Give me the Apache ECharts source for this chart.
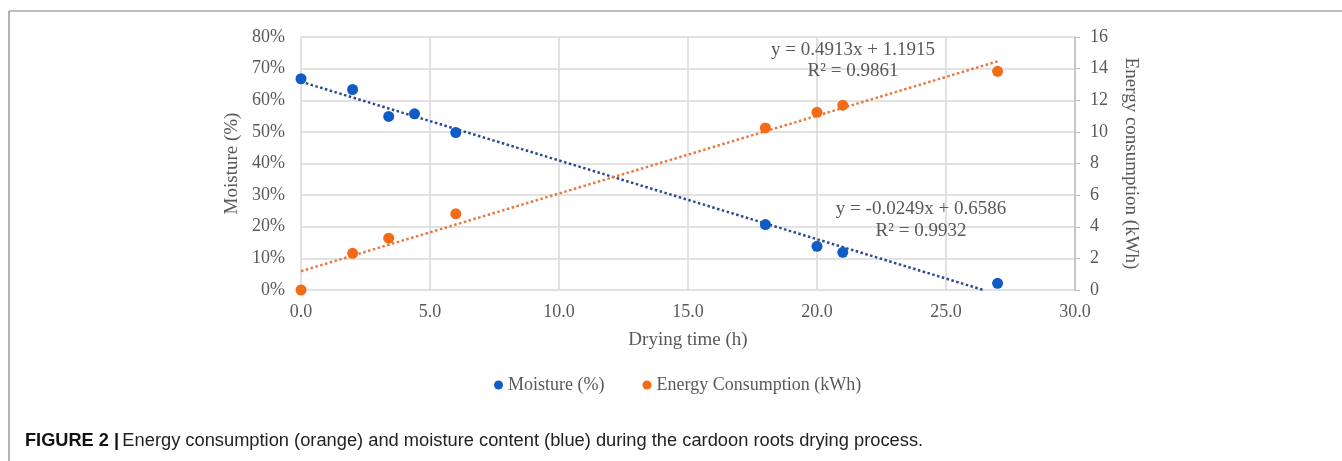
<!DOCTYPE html>
<html>
<head>
<meta charset="utf-8">
<script src="https://cdn.jsdelivr.net/npm/echarts@6/dist/echarts.min.js"></script>
<style>
  html, body { margin: 0; padding: 0; background: #fff; }
  #div-chart { width: 1342px; height: 461px; }
</style>
</head>
<body>
<div id="div-chart"></div>
<script>
"use strict";

//
// Data
//
const drying_time = [0, 2, 3.4, 4.4, 6, 18, 20, 21, 27];
const moisture_pct = [66.8, 63.4, 54.9, 55.7, 49.8, 20.7, 13.8, 11.9, 2.1];
// energy has no point at 4.4 h
const energy_time = [0, 2, 3.4, 6, 18, 20, 21, 27];
const energy_kwh = [0, 2.32, 3.28, 4.82, 10.25, 11.24, 11.69, 13.83];

// linear trendline end points
const trend_moisture = [[0, 65.86], [26.45, 0]];
const trend_energy = [[0, 1.19], [27, 14.46]];

const eq_energy = ["y = 0.4913x + 1.1915", "R² = 0.9861"];
const eq_moisture = ["y = -0.0249x + 0.6586", "R² = 0.9932"];

const caption_bold = "FIGURE 2 |";
const caption_text = "Energy consumption (orange) and moisture content (blue) during the cardoon roots drying process.";

//
// Styles
//
const col_blue = "#0f5cc4";
const col_orange = "#f56a14";
const col_text = "#595959";
const font_serif = "'Liberation Serif', 'Times New Roman', serif";
const font_caption = "'Liberation Sans', Arial, sans-serif";

const to_pairs = (xs, ys) => xs.map((x, i) => [x, ys[i]]);

const chart = echarts.init(document.getElementById("div-chart"));

chart.setOption({
  animation: false,
  textStyle: { fontFamily: font_serif },
  grid: {
    left: 301,
    right: 267,
    top: 37,
    bottom: 171,
  },
  legend: {
    show: true,
    top: 371,
    left: 489,
    itemWidth: 9,
    itemHeight: 9,
    itemGap: 38,
    icon: "circle",
    textStyle: { fontSize: 18, color: col_text, fontFamily: font_serif },
    data: ["Moisture (%)", "Energy Consumption (kWh)"],
  },
  xAxis: {
    type: "value",
    min: 0,
    max: 30,
    interval: 5,
    name: "Drying time (h)",
    nameLocation: "middle",
    nameGap: 41,
    nameTextStyle: { fontSize: 19, color: col_text },
    axisLine: { show: false },
    axisTick: { show: false },
    axisLabel: {
      fontSize: 18,
      color: col_text,
      margin: 13,
      formatter: (v) => v.toFixed(1),
    },
    splitLine: { show: true, lineStyle: { color: "#d9d9d9", width: 1.5 } },
  },
  yAxis: [
    {
      type: "value",
      min: 0,
      max: 80,
      interval: 10,
      name: "Moisture (%)",
      nameLocation: "middle",
      nameGap: 55,
      nameTextStyle: { fontSize: 19, color: col_text },
      axisLine: { show: false },
      axisTick: { show: false },
      axisLabel: {
        fontSize: 18,
        color: col_text,
        margin: 16,
        formatter: "{value}%",
      },
      splitLine: { show: true, lineStyle: { color: "#d9d9d9", width: 1.5 } },
    },
    {
      type: "value",
      min: 0,
      max: 16,
      interval: 2,
      position: "right",
      name: "Energy consumption (kWh)",
      nameLocation: "middle",
      nameRotate: -90,
      nameGap: 46,
      nameTextStyle: { fontSize: 19, color: col_text },
      axisLine: { show: true, lineStyle: { color: "#bfbfbf", width: 1.5 } },
      axisTick: { show: true, length: 5, lineStyle: { color: "#bfbfbf" } },
      axisLabel: { fontSize: 18, color: col_text, margin: 15 },
      splitLine: { show: false },
    },
  ],
  series: [
    {
      name: "Moisture (%)",
      type: "scatter",
      yAxisIndex: 0,
      symbolSize: 11,
      itemStyle: { color: col_blue, opacity: 1 },
      data: to_pairs(drying_time, moisture_pct),
      z: 5,
    },
    {
      name: "Energy Consumption (kWh)",
      type: "scatter",
      yAxisIndex: 1,
      symbolSize: 11,
      itemStyle: { color: col_orange, opacity: 1 },
      data: to_pairs(energy_time, energy_kwh),
      z: 5,
    },
    {
      name: "trend moisture",
      type: "line",
      yAxisIndex: 0,
      symbol: "none",
      silent: true,
      lineStyle: { color: "#2a4a94", width: 2.5, type: [2.5, 2.5] },
      data: trend_moisture,
      z: 3,
    },
    {
      name: "trend energy",
      type: "line",
      yAxisIndex: 1,
      symbol: "none",
      silent: true,
      lineStyle: { color: "#e8783e", width: 2.5, type: [2.5, 2.5] },
      data: trend_energy,
      z: 3,
    },
  ],
  graphic: [
    // frame (top and left only)
    {
      type: "line",
      shape: { x1: 9, y1: 11, x2: 1342, y2: 11 },
      style: { stroke: "#808080", lineWidth: 1.2 },
    },
    {
      type: "line",
      shape: { x1: 9, y1: 11, x2: 9, y2: 461 },
      style: { stroke: "#808080", lineWidth: 1.2 },
    },
    // equations
    {
      type: "text",
      x: 853,
      y: 61,
      style: {
        text: eq_energy.join("\n"),
        font: "19px " + font_serif,
        fill: col_text,
        align: "center",
        verticalAlign: "middle",
        lineHeight: 21,
      },
      z: 10,
    },
    {
      type: "text",
      x: 921,
      y: 220,
      style: {
        text: eq_moisture.join("\n"),
        font: "19px " + font_serif,
        fill: col_text,
        align: "center",
        verticalAlign: "middle",
        lineHeight: 22,
      },
      z: 10,
    },
    // caption
    {
      type: "text",
      x: 25,
      y: 441,
      style: {
        rich: {
          b: { font: "bold 18.2px " + font_caption, fill: "#111" },
          n: { font: "18.3px " + font_caption, fill: "#222" },
        },
        text: "{b|" + caption_bold + "} {n|" + caption_text + "}",
        verticalAlign: "middle",
      },
    },
  ],
});
</script>
</body>
</html>
